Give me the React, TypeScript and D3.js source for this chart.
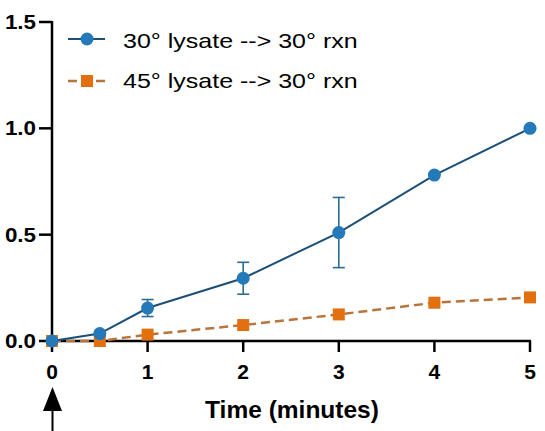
import React from "react";
import * as d3 from "d3";

const times = [0, 0.5, 1, 2, 3, 4, 5];
const lysate30 = [0, 0.035, 0.155, 0.295, 0.51, 0.78, 1.0];
const lysate30Err = [0, 0, 0.04, 0.075, 0.165, 0, 0];
const lysate45 = [0, 0.0, 0.03, 0.075, 0.125, 0.18, 0.205];
const xTicks = [0, 1, 2, 3, 4, 5];
const yTicks = [0, 0.5, 1.0, 1.5];
const seriesNames = ["30° lysate --> 30° rxn", "45° lysate --> 30° rxn"];

const W = 545;
const H = 431;
const BLUE = "#2479b8";
const BLUE_LINE = "#1c4f78";
const ORANGE = "#e2700f";
const ORANGE_LINE = "#b9743c";

export default function App() {
  const x = d3.scaleLinear().domain([0, 5]).range([52, 530]);
  const y = d3.scaleLinear().domain([0, 1.5]).range([341, 22]);
  const line = d3
    .line<number>()
    .x((_, i) => x(times[i]))
    .y((d) => y(d));
  const font = "'Liberation Sans', Arial, sans-serif";

  return (
    <svg
      width={W}
      height={H}
      style={{ position: "absolute", left: 0, top: 0, background: "#fff" }}
      fontFamily={font}
    >
      {/* axes */}
      <line x1={52} x2={52} y1={y(1.5) - 1} y2={y(0)} stroke="#000" strokeWidth={2.5} />
      <line x1={52} x2={x(5) + 1} y1={y(0)} y2={y(0)} stroke="#000" strokeWidth={2.5} />
      {yTicks.map((t) => (
        <g key={"y" + t}>
          <line x1={39} x2={52} y1={y(t)} y2={y(t)} stroke="#000" strokeWidth={2.5} />
          <text
            transform={`translate(36,${y(t) + 7}) scale(1.12,1)`}
            textAnchor="end"
            fontSize={20}
            fontWeight="bold"
          >
            {t.toFixed(1)}
          </text>
        </g>
      ))}
      {xTicks.map((t) => (
        <g key={"x" + t}>
          <line x1={x(t)} x2={x(t)} y1={y(0)} y2={y(0) + 11} stroke="#000" strokeWidth={2.5} />
          <text x={x(t)} y={379} textAnchor="middle" fontSize={21} fontWeight="bold">
            {t}
          </text>
        </g>
      ))}
      <text x={292} y={417.5} textAnchor="middle" fontSize={24.5} fontWeight="bold">
        Time (minutes)
      </text>

      {/* arrow */}
      <line x1={52.5} x2={52.5} y1={405} y2={431} stroke="#000" strokeWidth={2} />
      <path d="M52.5,387 L43,411 L62,411 Z" fill="#000" />

      {/* orange series */}
      <path
        d={line(lysate45) || ""}
        fill="none"
        stroke={ORANGE_LINE}
        strokeWidth={2.5}
        strokeDasharray="9,5"
      />
      {lysate45.map((v, i) => (
        <rect
          key={"o" + i}
          x={x(times[i]) - 6}
          y={y(v) - 6}
          width={12}
          height={12}
          fill={ORANGE}
        />
      ))}

      {/* blue series */}
      {lysate30.map((v, i) =>
        lysate30Err[i] > 0 ? (
          <g key={"e" + i} stroke="#2d6c8c" strokeWidth={1.6}>
            <line x1={x(times[i])} x2={x(times[i])} y1={y(v + lysate30Err[i])} y2={y(v - lysate30Err[i])} />
            <line x1={x(times[i]) - 6} x2={x(times[i]) + 6} y1={y(v + lysate30Err[i])} y2={y(v + lysate30Err[i])} />
            <line x1={x(times[i]) - 6} x2={x(times[i]) + 6} y1={y(v - lysate30Err[i])} y2={y(v - lysate30Err[i])} />
          </g>
        ) : null
      )}
      <path d={line(lysate30) || ""} fill="none" stroke={BLUE_LINE} strokeWidth={2} />
      {lysate30.map((v, i) => (
        <circle key={"b" + i} cx={x(times[i])} cy={y(v)} r={6.5} fill={BLUE} />
      ))}

      {/* legend */}
      <g>
        <line x1={68} x2={105} y1={39} y2={39} stroke={BLUE_LINE} strokeWidth={2} />
        <circle cx={87} cy={39} r={6.5} fill={BLUE} />
        <text transform="translate(123,47.5) scale(1.22,1)" fontSize={20.5}>
          {seriesNames[0]}
        </text>
        <line x1={68} x2={105} y1={81} y2={81} stroke={ORANGE_LINE} strokeWidth={2.5} strokeDasharray="9,5" />
        <rect x={81} y={75} width={12} height={12} fill={ORANGE} />
        <text transform="translate(123,87.5) scale(1.22,1)" fontSize={20.5}>
          {seriesNames[1]}
        </text>
      </g>
    </svg>
  );
}
